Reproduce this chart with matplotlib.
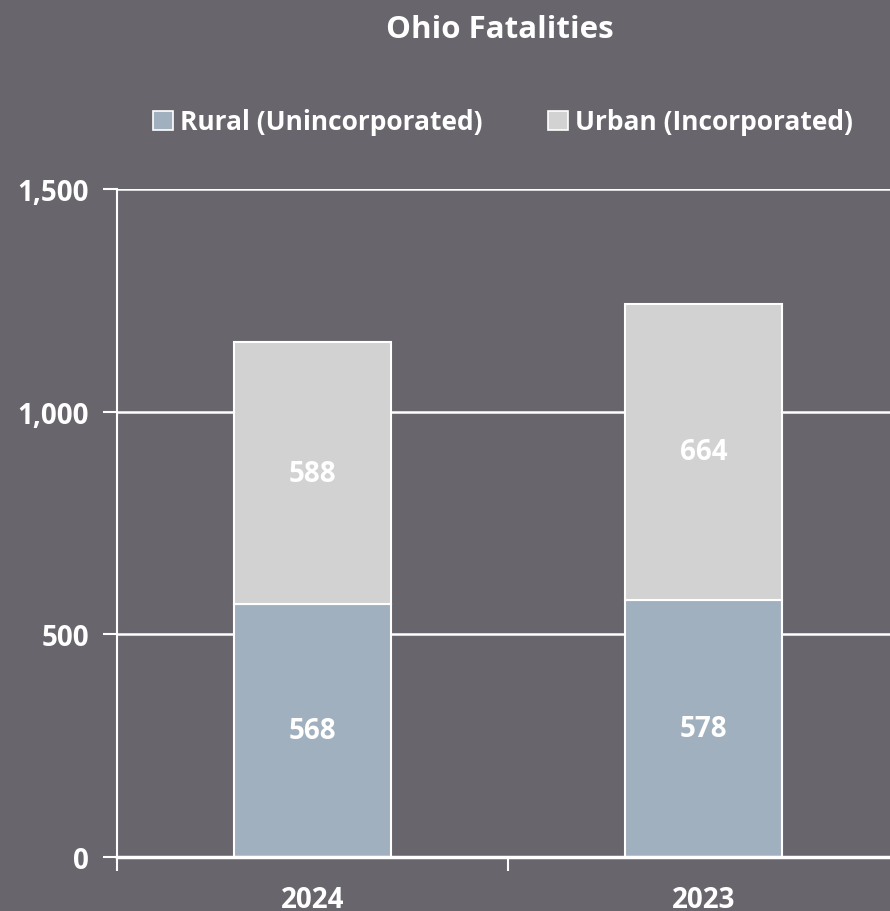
import matplotlib
matplotlib.use("Agg")
import matplotlib.pyplot as plt
from matplotlib.patches import Patch
from matplotlib.ticker import FixedLocator, FuncFormatter

categories = ["2024", "2023"]
rural = [568, 578]
urban = [588, 664]
series_names = ["Rural (Unincorporated)", "Urban (Incorporated)"]
y_ticks = [0, 500, 1000, 1500]

BG = "#68656c"
RURAL_C = "#a1b0bf"
URBAN_C = "#d2d2d2"
FONT = "Open Sans"

plt.rcParams['font.family'] = [FONT, 'DejaVu Sans']

fig = plt.figure(figsize=(8.90, 9.12), dpi=100, facecolor=BG)
ax = fig.add_axes([117/890, 54/912, 782/890, 668/912], facecolor=BG)

x = list(range(len(categories)))
w = 0.4
ax.bar(x, rural, width=w, color=RURAL_C, edgecolor="white", linewidth=1.5, zorder=3)
ax.bar(x, urban, width=w, bottom=rural, color=URBAN_C, edgecolor="white", linewidth=1.5, zorder=3)

for i in x:
    ax.text(i, rural[i] / 2, f"{rural[i]}", ha="center", va="center", color="white",
            fontsize=20, fontweight="bold", zorder=4)
    ax.text(i, rural[i] + urban[i] / 2, f"{urban[i]}", ha="center", va="center", color="white",
            fontsize=20, fontweight="bold", zorder=4)

ax.set_xlim(-0.5, 1.5)
ax.set_ylim(0, 1500)
ax.yaxis.set_major_locator(FixedLocator(y_ticks))
ax.yaxis.set_major_formatter(FuncFormatter(lambda v, p: f"{int(v):,}"))
ax.grid(axis="y", color="white", linewidth=1.8, zorder=0)

ax.set_xticks([-0.5, 0.5, 1.5])
ax.set_xticklabels([])
ax.set_xticks(x, minor=True)
ax.set_xticklabels(categories, minor=True)
ax.tick_params(axis="x", which="major", length=10, width=1.5, color="white", direction="out")
ax.tick_params(axis="x", which="minor", length=0, pad=20, labelsize=20, labelcolor="white")
ax.tick_params(axis="y", length=10, width=1.5, color="white", pad=10, labelsize=20, labelcolor="white")
for lab in ax.get_xticklabels(minor=True) + ax.get_yticklabels():
    lab.set_fontweight("bold")

for s in ["top", "right"]:
    ax.spines[s].set_visible(False)
ax.spines["left"].set_color("white")
ax.spines["left"].set_linewidth(1.5)
ax.spines["bottom"].set_color("white")
ax.spines["bottom"].set_linewidth(2.5)
ax.spines["bottom"].set_zorder(5)

fig.text(500/890, 1 - 30/912, "Ohio Fatalities", ha="center", va="center", color="white",
         fontsize=22.5, fontweight="bold")

handles = [Patch(facecolor=RURAL_C, edgecolor="white", linewidth=1.2),
           Patch(facecolor=URBAN_C, edgecolor="white", linewidth=1.2)]
leg = fig.legend(handles, series_names, loc="center", bbox_to_anchor=(503/890, 1 - 123/912),
                 ncol=2, frameon=False, handlelength=0.75, handleheight=0.75, handletextpad=0.25,
                 columnspacing=2.5, prop={"family": FONT, "weight": "bold", "size": 19})
for t in leg.get_texts():
    t.set_color("white")

fig.savefig("out.png", dpi=100, facecolor=BG)
